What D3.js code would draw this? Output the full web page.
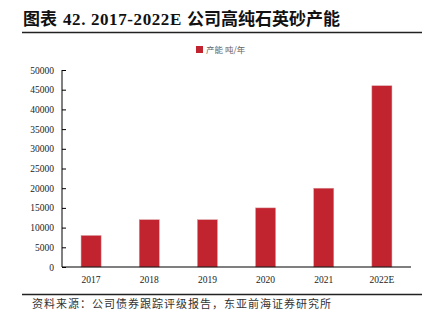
<!DOCTYPE html>
<html>
<head>
<meta charset="utf-8">
<script src="https://cdn.jsdelivr.net/npm/d3@7"></script>
<style>
  html, body { margin: 0; padding: 0; background: #fff; }
  svg { display: block; }
</style>
</head>
<body>
<svg id="chart" width="422" height="326"></svg>
<script>
// Capacity by year (tonnes per year)
const years = ["2017", "2018", "2019", "2020", "2021", "2022E"];
const capacity = [8000, 12000, 12000, 15000, 20000, 46000];
const yTicks = [0, 5000, 10000, 15000, 20000, 25000, 30000, 35000, 40000, 45000, 50000];
const titleParts = ["图表", "42. 2017-2022E", "公司高纯石英砂产能"];
const legendText = "产能 吨/年";
const sourceText = "资料来源：公司债券跟踪评级报告，东亚前海证券研究所";

const svg = d3.select("#chart");
const serif = "'Liberation Serif', 'Times New Roman', 'Noto Sans CJK SC', serif";
const barColor = "#C1232F";

const plot = { left: 62, right: 411, top: 70, bottom: 267 };

const x = d3.scaleBand().domain(years).range([plot.left, plot.right]).paddingInner(0.655).paddingOuter(0.3275);
const y = d3.scaleLinear().domain([0, 50000]).range([plot.bottom, plot.top]);

// Title and rule
const title = svg.append("text")
  .attr("x", 23).attr("y", 25)
  .attr("font-family", serif)
  .attr("font-weight", "bold")
  .attr("font-size", 17)
  .attr("fill", "#111");
title.append("tspan").text(titleParts[0]);
title.append("tspan").attr("dx", 6).attr("letter-spacing", 0.6).text(titleParts[1]);
title.append("tspan").attr("dx", 5).text(titleParts[2]);
svg.append("line")
  .attr("x1", 22).attr("x2", 422).attr("y1", 32.5).attr("y2", 32.5)
  .attr("stroke", "#222").attr("stroke-width", 1.5);

// Legend
svg.append("rect").attr("x", 196).attr("y", 46).attr("width", 7).attr("height", 7).attr("fill", barColor);
svg.append("text")
  .attr("x", 206).attr("y", 52.5)
  .attr("font-family", "'Noto Sans CJK SC', sans-serif")
  .attr("font-size", 8.5)
  .attr("fill", "#666")
  .text(legendText);

// Bars
svg.append("g").selectAll("rect")
  .data(years.map((yr, i) => ({ yr, v: capacity[i] })))
  .join("rect")
  .attr("x", d => x(d.yr))
  .attr("width", x.bandwidth())
  .attr("y", d => y(d.v))
  .attr("height", d => y(0) - y(d.v))
  .attr("fill", barColor)
  .attr("stroke", "#d9a0a4")
  .attr("stroke-width", 0.5);

// Y axis
const yAxis = svg.append("g")
  .attr("transform", `translate(${plot.left},0)`)
  .call(d3.axisLeft(y).tickValues(yTicks).tickSize(-4).tickPadding(8).tickFormat(d3.format("d")));
yAxis.selectAll("text").attr("font-family", serif).attr("font-size", 9.5).attr("fill", "#222");
yAxis.selectAll("line").attr("stroke", "#000");
yAxis.select(".domain").attr("stroke", "#000").attr("d", `M0,${plot.top}V${plot.bottom}`);

// X axis
const xAxis = svg.append("g")
  .attr("transform", `translate(0,${plot.bottom})`)
  .call(d3.axisBottom(x).tickSize(0).tickPadding(9));
xAxis.selectAll("text").attr("font-family", serif).attr("font-size", 9.5).attr("fill", "#222");
xAxis.select(".domain").attr("stroke", "#000").attr("stroke-width", 1.2).attr("d", `M${plot.left},0H${plot.right}`);

// Source rule and note
svg.append("line")
  .attr("x1", 22).attr("x2", 422).attr("y1", 294.5).attr("y2", 294.5)
  .attr("stroke", "#222").attr("stroke-width", 1.5);
svg.append("text")
  .attr("x", 32).attr("y", 308)
  .attr("font-family", "'Noto Sans CJK SC', sans-serif")
  .attr("font-size", 11)
  .attr("letter-spacing", 1)
  .attr("fill", "#333")
  .text(sourceText);
</script>
</body>
</html>
